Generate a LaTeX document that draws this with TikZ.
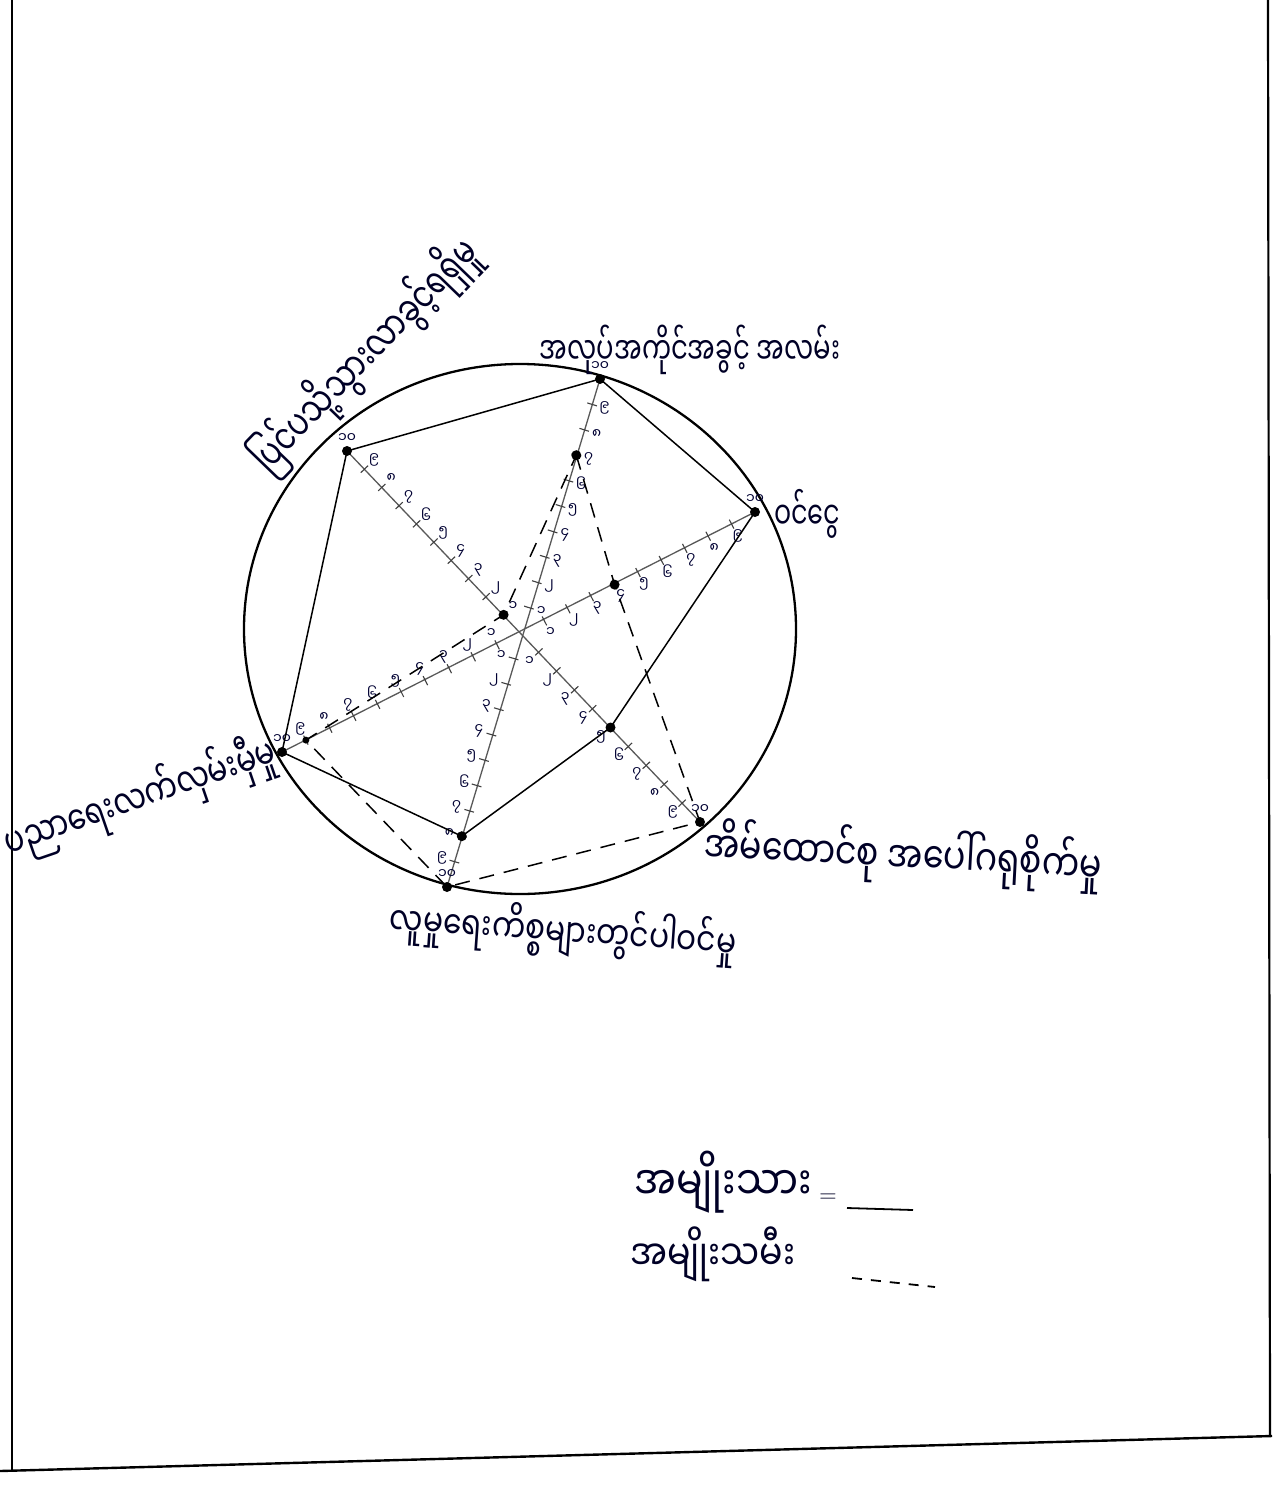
\documentclass[tikz,border=0pt]{standalone}
\usepackage{fontspec}
\usepackage{graphicx}
\newfontfamily\mm[Script=Myanmar]{Noto Sans Myanmar UI}
\usetikzlibrary{calc}
\newcommand{\mmtext}[3]{\resizebox{#1pt}{!}{\scalebox{1}[#2]{\mm #3}}}
\tikzset{
  axisline/.style={draw=black!65, line width=1.3pt},
  tickmark/.style={draw=black!75, line width=1.1pt},
  numlab/.style={text=black!80!blue, font=\mm\fontsize{14}{14}\selectfont, inner sep=0pt},
  menline/.style={draw=black, line width=1.5pt, line join=round},
  womenline/.style={draw=black, line width=1.5pt, dash pattern=on 15pt off 10pt},
  dotmark/.style={fill=black},
  lab/.style={text=black!85!blue, inner sep=0pt},
}
\begin{document}
\begin{tikzpicture}[x=1pt,y=-1pt]
\useasboundingbox (0,0) rectangle (1286,1486);
\fill[white] (0,0) rectangle (1286,1486);
% frame
\draw[line width=2.4pt] (12,0) -- (12,1470);
\draw[line width=2.2pt] (1268,0) -- (1270,1436);
\draw[line width=2.4pt] (0,1471) -- (1272,1436);
% circle
\draw[line width=2.3pt] (520,629) ellipse [x radius=276, y radius=265];
% axis ends
\coordinate (C) at (521,633);
\coordinate (T) at (600,379);
\coordinate (B) at (447,887);
\coordinate (UL) at (347,451);
\coordinate (LR) at (700,822);
\coordinate (R) at (755,512);
\coordinate (L) at (282,752);
\draw[axisline] (T) -- (B);
\draw[axisline] (UL) -- (LR);
\draw[axisline] (R) -- (L);
% ticks and numbers
\foreach \E in {T,B,UL,LR,R,L}{
  \foreach \k/\lab in {1/၁,2/၂,3/၃,4/၄,5/၅,6/၆,7/၇,8/၈,9/၉,10/၁၀}{
    \coordinate (p) at ($(C)!\k/10!(\E)$);
    \draw[tickmark] ($(p)!5pt!90:(\E)$) -- ($(p)!5pt!-90:(\E)$);
    \node[numlab] at ($(p)!13pt!-90:(\E)$) {\lab};
  }
}
% men (solid)
\coordinate (m3) at ($(C)!0.5!(LR)$);
\coordinate (m4) at ($(C)!0.8!(B)$);
\draw[menline] (T) -- (R) -- (m3) -- (m4) -- (L) -- (UL) -- cycle;
% women (dashed)
\coordinate (w1) at ($(C)!0.7!(T)$);
\coordinate (w2) at ($(C)!0.4!(R)$);
\coordinate (w5) at ($(C)!0.9!(L)$);
\coordinate (w6) at ($(C)!0.1!(UL)$);
\draw[womenline] (w1) -- (w2) -- (LR) -- (B) -- (w5) -- (w6) -- cycle;
% dots
\foreach \P in {T,R,L,UL,m3,m4,w1,w2,LR,B,w6}{\fill[dotmark] (\P) circle (5pt);}
\fill[dotmark] (w5) circle (3.5pt);
% labels
\node[lab] (lt) at (690,350) {\mmtext{300}{1.45}{အလုပ်အကိုင်အခွင့် အလမ်း}};
\node[lab] (lr) at (807,514) {\mmtext{66}{1.5}{ဝင်ငွေ}};
\node[lab, rotate=46] (lul) at (366,356) {\mmtext{305}{1.4}{ပြင်ပသို့သွားလာခွင့်ရရှိမှု}};
\node[lab, rotate=19] (ll) at (140,798) {\mmtext{285}{1.35}{ပညာရေးလက်လှမ်းမှီမှု}};
\node[lab, rotate=-3] (llr) at (903,856) {\mmtext{398}{1.3}{အိမ်ထောင်စု အပေါ်ဂရုစိုက်မှု}};
\node[lab, rotate=-4] (lb) at (563,932) {\mmtext{347}{1.3}{လူမှုရေးကိစ္စများတွင်ပါဝင်မှု}};
% legend
\node[lab, anchor=west] (k1) at (634,1182) {\mmtext{178}{1.2}{အမျိုးသား}};
\node[lab] (eq) at (828,1198) {\fontsize{24}{24}\selectfont =};
\coordinate (s1) at (847,1208);
\coordinate (s2) at (913,1210);
\draw[line width=1.8pt] (s1) -- (s2);
\node[lab, anchor=west] (k2) at (630,1254) {\mmtext{165}{1.2}{အမျိုးသမီး}};
\coordinate (d1) at (852,1278);
\coordinate (d2) at (935,1287);
\draw[line width=1.8pt, dash pattern=on 10pt off 9pt] (d1) -- (d2);
\end{tikzpicture}
\end{document}
